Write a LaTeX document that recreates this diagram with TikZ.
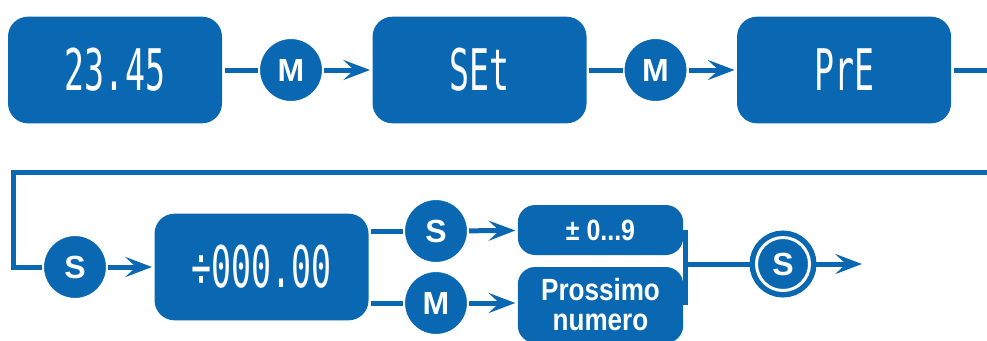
\documentclass[tikz,border=0pt]{standalone}
\usepackage{fontspec}
\usepackage{tikz}
\usetikzlibrary{arrows.meta}
\definecolor{panelblue}{RGB}{10,104,178}
\newfontfamily\keyfont{Liberation Sans}
\newfontfamily\boxfont[FakeStretch=0.85]{Liberation Sans}
\newfontfamily\segfont[FakeStretch=0.58]{DejaVu Sans Mono}

\begin{document}
\begin{tikzpicture}[x=0.75pt,y=-0.75pt,node distance=132pt,
  color=panelblue,line width=3.75pt,
  disp node/.style={rectangle,rounded corners=15pt,fill=panelblue,
    minimum width=160.5pt,minimum height=80pt,text=white,
    font=\segfont\fontsize{43}{43}\selectfont},
  key node/.style={circle,fill=panelblue,draw=white,line width=1.5pt,
    minimum size=48pt,inner sep=0pt,text=white,
    font=\keyfont\bfseries\fontsize{24}{26}\selectfont},
  small node/.style={rectangle,rounded corners=13pt,fill=panelblue,
    minimum width=124pt,minimum height=37.5pt,inner sep=2pt,text=white,
    align=center,font=\boxfont\bfseries\fontsize{23}{22.5}\selectfont},
  end node/.style={key node,line width=2.25pt,minimum size=39.75pt,
    preaction={draw=panelblue,line width=10.5pt}},
  arrow/.style={-{Stealth[length=20pt,width=15pt,inset=8pt]}}]
  \useasboundingbox (0,0) rectangle (987,340);
  \clip (0,0) rectangle (987,340);
  % first row
  \node[disp node] (1) at (115,70) {23.45};
  \node[key node] (2) [right of=1] {M};
  \node[disp node] (3) [right of=2,node distance=141.4pt] {SEt};
  \node[key node] (4) [right of=3] {M};
  \node[disp node] (5) [right of=4,node distance=141.4pt] {PrE};
  \coordinate (r1) at (1000,70);
  \coordinate (r2) at (13,172);
  % second row
  \node[key node] (6) at (75,267) {S};
  \node[disp node] (7) [right of=6,node distance=139.9pt] {÷000.00};
  \node[key node] (8) at (436,231) {S};
  \node[key node] (9) at (436,303) {M};
  \node[small node,font=\boxfont\bfseries\fontsize{22}{22}\selectfont] (10) at (600.5,230) {± 0...9};
  \node[small node,minimum height=57pt] (11) at (600.5,305) {Prossimo\\numero};
  \node[end node] (13) at (783,264) {S};
  \coordinate (14) at (862,264);
  \draw (1) -- (2);
  \draw[arrow] (2) -- (3);
  \draw (3) -- (4);
  \draw[arrow] (4) -- (5);
  \draw (5) -- (r1) |- (r2) |- (6);
  \draw[arrow] (6) -- (7);
  \draw (7.east |- 8) -- (8);
  \draw (7.east |- 9) -- (9);
  \draw[arrow] (8) -- (10);
  \draw[arrow] (9) -- (11.west |- 9);
  \draw (10.east) -- (11.east);
  \draw (10.east |- 13) -- (13);
  \draw[arrow] (13) -- (14);
\end{tikzpicture}
\end{document}
